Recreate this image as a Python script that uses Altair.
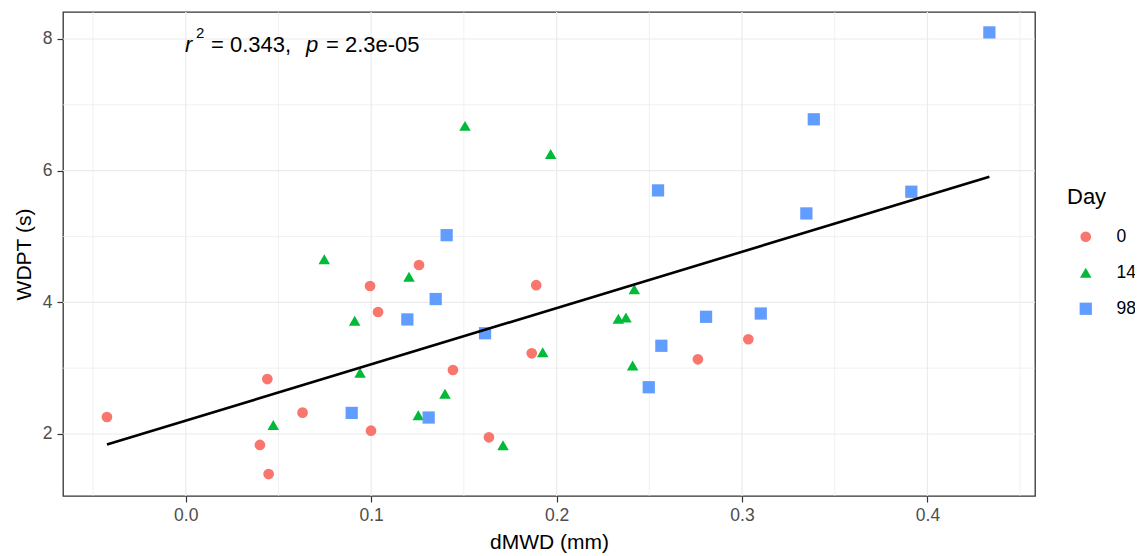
import altair as alt
import pandas as pd

# ---- data ----
day0_x = [-0.0425, 0.040, 0.0447, 0.044, 0.063, 0.0994, 0.1037, 0.0999, 0.1258,
          0.1441, 0.189, 0.1866, 0.2762, 0.3034, 0.1635]
day0_y = [2.258, 1.833, 1.392, 2.835, 2.324, 4.248, 3.853, 2.05, 4.567,
          2.972, 4.26, 3.226, 3.135, 3.439, 1.95]

day14_x = [0.0747, 0.1204, 0.0911, 0.094, 0.0472, 0.1254, 0.1398, 0.1506, 0.1968,
           0.2419, 0.2333, 0.2374, 0.1925, 0.241, 0.1711]
day14_y = [4.654, 4.39, 3.72, 2.93, 2.137, 2.284, 2.61, 6.68, 6.253,
           4.20, 3.75, 3.77, 3.24, 3.04, 1.83]

day98_x = [0.1407, 0.1348, 0.1195, 0.0895, 0.131, 0.1614, 0.2547, 0.2806, 0.2565,
           0.2497, 0.4334, 0.3387, 0.3913, 0.3347, 0.3101]
day98_y = [5.02, 4.05, 3.74, 2.32, 2.25, 3.53, 5.70, 3.78, 3.34,
           2.71, 8.10, 6.78, 5.68, 5.35, 3.83]

day_levels = ["0", "14", "98"]
day_colors = ["#F8766D", "#00BA38", "#619CFF"]
day_shapes = ["circle", "triangle-up", "square"]
day_sizes = [115, 150, 105]

x_ticks = [0.0, 0.1, 0.2, 0.3, 0.4]
y_ticks = [2, 4, 6, 8]
x_grid_major = [0.0, 0.1, 0.2, 0.3, 0.4]
x_grid_minor = [-0.05, 0.05, 0.15, 0.25, 0.35, 0.45]
y_grid_major = [2, 4, 6, 8]
y_grid_minor = [3, 5, 7]

annot_parts = ["r", "2", "= 0.343,", "p", "= 2.3e-05"]

x_domain = [-0.0662, 0.458]
y_domain = [1.058, 8.41]

FONT = "Liberation Sans"

rows = []
for lvl, xs_, ys_ in [("0", day0_x, day0_y), ("14", day14_x, day14_y), ("98", day98_x, day98_y)]:
    for a, b in zip(xs_, ys_):
        rows.append({"dMWD": a, "WDPT": b, "Day": lvl})
df = pd.DataFrame(rows)

xs = alt.Scale(domain=x_domain, nice=False, zero=False)
ys = alt.Scale(domain=y_domain, nice=False, zero=False)
x_axis = alt.Axis(values=x_ticks, format=".1f", grid=False, title="dMWD (mm)")
y_axis = alt.Axis(values=y_ticks, format="d", grid=False, title="WDPT (s)")

GRID = "#EBEBEB"

xmaj = alt.Chart(pd.DataFrame({"g": x_grid_major})).mark_rule(color=GRID, strokeWidth=1.2).encode(
    x=alt.X("g:Q", scale=xs, axis=x_axis))
xmin = alt.Chart(pd.DataFrame({"g": x_grid_minor})).mark_rule(color=GRID, strokeWidth=0.7).encode(
    x=alt.X("g:Q", scale=xs, axis=x_axis))
ymaj = alt.Chart(pd.DataFrame({"g": y_grid_major})).mark_rule(color=GRID, strokeWidth=1.2).encode(
    y=alt.Y("g:Q", scale=ys, axis=y_axis))
ymin = alt.Chart(pd.DataFrame({"g": y_grid_minor})).mark_rule(color=GRID, strokeWidth=0.7).encode(
    y=alt.Y("g:Q", scale=ys, axis=y_axis))

base = alt.Chart(df)

points = base.mark_point(filled=True, opacity=1).encode(
    x=alt.X("dMWD:Q", scale=xs, axis=x_axis),
    y=alt.Y("WDPT:Q", scale=ys, axis=y_axis),
    color=alt.Color("Day:N", scale=alt.Scale(domain=day_levels, range=day_colors),
                    legend=alt.Legend(title="Day", orient="none", legendX=1004, legendY=175,
                                      symbolOffset=10, labelOffset=22, rowPadding=17,
                                      titlePadding=19, padding=0, symbolSize=110)),
    shape=alt.Shape("Day:N", scale=alt.Scale(domain=day_levels, range=day_shapes)),
    size=alt.Size("Day:N", scale=alt.Scale(domain=day_levels, range=day_sizes), legend=None),
)

reg = base.transform_regression("dMWD", "WDPT").mark_line(color="black", strokeWidth=2.6).encode(
    x=alt.X("dMWD:Q", scale=xs, axis=x_axis),
    y=alt.Y("WDPT:Q", scale=ys, axis=y_axis),
)

adf = pd.DataFrame({"t": annot_parts})

def part(i, x, y, size, italic=False):
    kw = dict(align="left", baseline="alphabetic", fontSize=size, font=FONT, color="black")
    if italic:
        kw["fontStyle"] = "italic"
    return alt.Chart(adf).transform_filter(alt.datum.t == annot_parts[i]).mark_text(**kw).encode(
        x=alt.value(x), y=alt.value(y), text="t:N")

ann = [
    part(0, 122, 40, 22, True),
    part(1, 133, 26, 15),
    part(2, 148, 40, 22),
    part(3, 243, 40, 22, True),
    part(4, 263, 40, 22),
]

chart = alt.layer(xmin, xmaj, ymin, ymaj, points, reg, *ann).properties(
    width=972, height=484,
    autosize=alt.AutoSizeParams(type="none"),
    padding={"left": 55, "top": 4, "right": 100, "bottom": 58},
).configure_view(
    stroke="#333333", strokeWidth=1.3
).configure_axis(
    labelFont=FONT, titleFont=FONT, labelFontSize=17.5, titleFontSize=21,
    labelColor="#4D4D4D", titleColor="black", tickColor="#333333", domain=False,
    tickSize=6, tickWidth=1.2, titleFontWeight="normal",
).configure_axisX(
    labelPadding=4, titlePadding=8,
).configure_axisY(
    labelPadding=5, titlePadding=8,
).configure_legend(
    titleFont=FONT, labelFont=FONT, titleFontSize=22, labelFontSize=17.5,
    titleFontWeight="normal", labelColor="black", titleColor="black",
)

chart.save("out.html", embed_options={"renderer": "svg", "actions": False})
